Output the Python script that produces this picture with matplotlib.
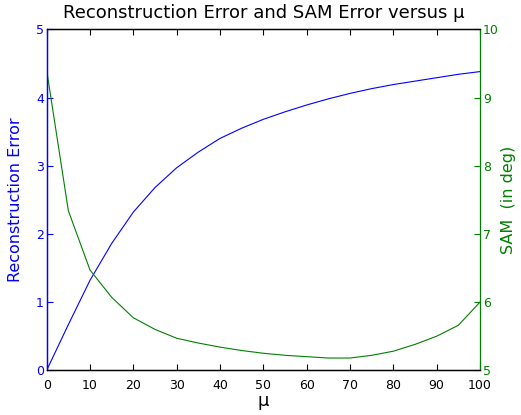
import numpy as np
import matplotlib
matplotlib.use("Agg")
import matplotlib.pyplot as plt

# values
mu = [0, 5, 10, 15, 20, 25, 30, 35, 40, 45, 50, 55, 60, 65, 70, 75, 80, 85, 90, 95, 100]
recon_err = [0.0, 0.67, 1.32, 1.86, 2.32, 2.68, 2.97, 3.20, 3.40, 3.55, 3.68,
             3.79, 3.89, 3.98, 4.06, 4.13, 4.19, 4.24, 4.29, 4.34, 4.38]
sam_err = [9.40, 7.34, 6.47, 6.07, 5.77, 5.60, 5.47, 5.40, 5.34, 5.29, 5.25,
           5.22, 5.20, 5.18, 5.18, 5.22, 5.28, 5.38, 5.50, 5.66, 6.00]

blue = "#0000ff"
green = "#008000"

fig = plt.figure(figsize=(5.21, 4.15), dpi=100)
ax = fig.add_axes([0.0896, 0.1077, 0.8317, 0.8217])
ax2 = ax.twinx()

ax.plot(mu, recon_err, color=blue, lw=0.8)
ax2.plot(mu, sam_err, color=green, lw=0.8)

ax.set_xlim(0, 100)
ax.set_ylim(0, 5)
ax2.set_ylim(5, 10)
ax.set_xticks(np.arange(0, 101, 10))
ax.set_yticks(np.arange(0, 6, 1))
ax2.set_yticks(np.arange(5, 11, 1))

ax.tick_params(axis="x", direction="in", top=True, length=4, pad=6, labelsize=9, colors="black")
ax.tick_params(axis="y", direction="in", length=4, pad=2, labelsize=9, colors=blue)
ax2.tick_params(axis="y", direction="in", length=4, pad=2, labelsize=9, colors=green)

ax.spines["left"].set_color(blue)
ax2.spines["left"].set_color(blue)
ax2.spines["right"].set_color(green)
ax.spines["right"].set_visible(False)
for s in list(ax.spines.values()) + list(ax2.spines.values()):
    s.set_linewidth(0.9)

ax.set_xlabel("μ", fontsize=13, labelpad=0)
ax.set_ylabel("Reconstruction Error", fontsize=11.5, color=blue)
ax2.set_ylabel("SAM  (in deg)", fontsize=11.5, color=green)
ax.yaxis.set_label_coords(-0.071, 0.5)
ax2.yaxis.set_label_coords(1.066, 0.5)
ax.yaxis.label.set_va("center")
ax2.yaxis.label.set_va("center")
ax.set_title("Reconstruction Error and SAM Error versus μ", fontsize=13, pad=8)

fig.savefig("out.png", dpi=100)
